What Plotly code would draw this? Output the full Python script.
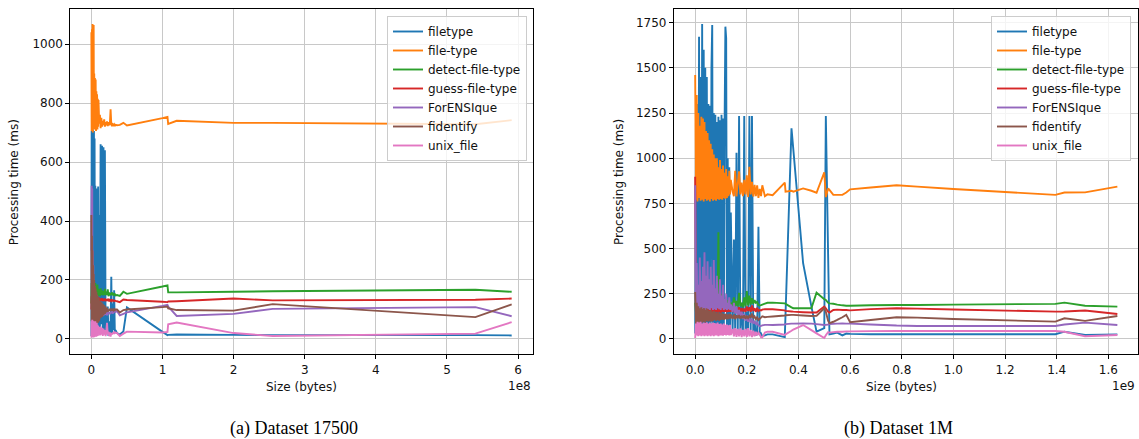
import plotly.graph_objects as go

# ---------------- Dataset 17500 (sizes in units of 1e8 bytes) ----------------
size_a = [0.000, 0.004, 0.008, 0.012, 0.016, 0.020, 0.024, 0.028, 0.032, 0.036,
          0.040, 0.045, 0.050, 0.055, 0.060, 0.065, 0.070, 0.075, 0.080, 0.085,
          0.090, 0.095, 0.100, 0.110, 0.120, 0.130, 0.140, 0.150, 0.160, 0.170,
          0.180, 0.190, 0.200, 0.210, 0.220, 0.230, 0.240, 0.250, 0.260, 0.270,
          0.280, 0.290, 0.300, 0.310, 0.320, 0.330, 0.340,
          0.36, 0.40, 0.45, 0.50, 1.00, 1.07, 1.08, 1.20, 2.00, 2.55, 5.40, 5.91]

filetype_a = [10, 705, 20, 700, 40, 710, 15, 690, 60, 705,
              30, 680, 80, 520, 20, 180, 30, 510, 40, 500,
              60, 517, 30, 420, 40, 660, 50, 655, 30, 650,
              20, 640, 15, 90, 20, 110, 10, 60, 20, 40,
              211, 20, 120, 30, 165, 20, 30,
              20, 15, 25, 107, 24, 13, 14, 15, 14, 13, 13, 12]
file_type_a = [1040, 705, 1050, 710, 1068, 700, 1060, 720, 1065, 715,
               900, 710, 885, 720, 880, 705, 840, 720, 830, 710,
               815, 720, 810, 730, 760, 715, 750, 720, 740, 725,
               745, 720, 735, 725, 738, 722, 735, 725, 730, 779,
               728, 722, 728, 725, 728, 722, 726,
               725, 726, 733, 724, 749, 753, 729, 740, 733, 733, 728, 742]
detect_a = [120, 190, 150, 195, 140, 180, 150, 190, 145, 185,
            150, 175, 145, 190, 150, 180, 140, 175, 150, 185,
            145, 170, 150, 168, 145, 172, 150, 165, 148, 162,
            150, 170, 148, 160, 150, 168, 145, 158, 148, 155,
            150, 158, 148, 155, 150, 152, 148,
            149, 146, 160, 153, 178, 182, 158, 158, 160, 162, 167, 160]
guess_a = [100, 145, 120, 150, 118, 140, 125, 148, 120, 142,
           125, 145, 128, 140, 122, 145, 128, 138, 125, 142,
           130, 138, 128, 140, 128, 136, 130, 138, 128, 135,
           130, 137, 128, 134, 130, 136, 128, 133, 130, 134,
           129, 132, 130, 131, 128, 130, 129,
           128, 125, 134, 132, 126, 125, 127, 128, 137, 131, 133, 137]
forensique_a = [300, 520, 80, 510, 60, 300, 70, 250, 60, 180,
                70, 150, 60, 130, 70, 120, 65, 110, 70, 105,
                75, 100, 70, 100, 75, 98, 80, 95, 78, 92,
                80, 95, 82, 90, 80, 92, 85, 90, 84, 92,
                88, 95, 85, 98, 90, 96, 92,
                95, 80, 85, 90, 112, 116, 110, 78, 85, 102, 108, 77]
fidentify_a = [420, 60, 350, 50, 300, 45, 250, 50, 220, 55,
               200, 50, 180, 45, 170, 55, 160, 50, 150, 60,
               145, 55, 140, 60, 130, 70, 125, 75, 120, 80,
               115, 85, 110, 90, 105, 92, 100, 95, 102, 96,
               100, 98, 100, 97, 101, 98, 100,
               100, 90, 98, 100, 108, 110, 104, 98, 96, 118, 74, 117]
unix_a = [5, 60, 5, 65, 8, 62, 5, 58, 10, 60,
          6, 55, 8, 60, 10, 50, 8, 55, 12, 48,
          10, 45, 15, 40, 12, 42, 15, 38, 10, 35,
          15, 30, 10, 28, 55, 15, 25, 10, 22, 8,
          20, 15, 22, 18, 25, 20, 22,
          20, 10, 18, 25, 22, 24, 50, 56, 20, 10, 18, 57]

# ---------------- Dataset 1M (sizes in units of 1e9 bytes) ----------------
size_b = [0.000, 0.003, 0.006, 0.009, 0.012, 0.015, 0.018, 0.021, 0.024, 0.027,
          0.030, 0.033, 0.036, 0.039, 0.042, 0.045, 0.048, 0.051, 0.054, 0.057,
          0.060, 0.063, 0.066, 0.069, 0.072, 0.075, 0.078, 0.081, 0.084, 0.087,
          0.090, 0.093, 0.096, 0.099, 0.102, 0.105, 0.108, 0.111, 0.114, 0.117,
          0.120, 0.123, 0.126, 0.129, 0.132, 0.135, 0.138,
          0.145, 0.150, 0.155, 0.160, 0.165, 0.170, 0.175, 0.180, 0.185, 0.190,
          0.195, 0.200, 0.205, 0.210, 0.215, 0.220, 0.225, 0.230, 0.235, 0.240,
          0.245, 0.250, 0.255, 0.260, 0.270, 0.280,
          0.300, 0.347, 0.350, 0.373, 0.380, 0.418, 0.450, 0.470, 0.500, 0.506,
          0.515, 0.520, 0.535, 0.550, 0.570, 0.585, 0.600, 0.680, 0.780, 0.860,
          1.000, 1.395, 1.430, 1.510, 1.635]

filetype_b = [30, 1250, 40, 1300, 30, 1672, 50, 1450, 40, 1743,
              30, 1600, 60, 1500, 40, 1450, 30, 1300, 50, 1290,
              40, 1500, 1737, 30, 1250, 50, 1240, 40, 1200, 30,
              1230, 50, 1210, 40, 1240, 30, 1220, 60, 1200, 1728,
              1665, 40, 1000, 30, 950, 40, 700,
              40, 550, 30, 1030, 40, 1234, 30, 200, 40, 1234,
              30, 150, 40, 1234, 50, 1234, 30, 100, 20, 40,
              621, 20, 30, 15, 20, 25,
              25, 10, 140, 1165, 1050, 419, 180, 40, 60, 1234,
              450, 25, 30, 35, 20, 30, 28, 26, 26, 26,
              26, 26, 40, 22, 25]
file_type_b = [1460, 770, 1350, 760, 1250, 780, 1180, 765, 1230, 770,
               1220, 760, 1200, 775, 1150, 765, 1140, 770, 1100, 760,
               1080, 775, 1050, 765, 1020, 770, 1000, 765, 1000, 775,
               950, 770, 990, 775, 940, 770, 960, 780, 920, 775,
               940, 780, 900, 790, 930, 800, 880,
               815, 790, 930, 788, 860, 927, 800, 865, 790, 880,
               800, 905, 785, 953, 800, 870, 788, 852, 790, 850,
               780, 830, 790, 850, 790, 800,
               795, 865, 815, 820, 815, 833, 820, 809, 922, 785,
               833, 825, 797, 797, 797, 810, 828, 838, 850, 843,
               830, 797, 810, 811, 843]
detect_b = [200, 150, 220, 160, 210, 150, 230, 160, 200, 150,
            220, 160, 210, 150, 200, 160, 220, 155, 210, 160,
            200, 150, 215, 160, 200, 155, 210, 160, 200, 165,
            590, 170, 240, 180, 250, 175, 230, 180, 220, 175,
            210, 180, 215, 175, 205, 180, 200,
            185, 230, 180, 210, 178, 255, 180, 200, 175, 230,
            180, 265, 185, 240, 190, 225, 195, 215, 200, 205,
            188, 185, 187, 190, 195, 200,
            201, 197, 194, 175, 170, 170, 170, 256, 220, 216,
            200, 197, 195, 190, 186, 184, 184, 186, 188, 188,
            190, 194, 201, 184, 179]
guess_b = [898, 150, 170, 140, 175, 145, 165, 140, 170, 145,
           160, 140, 170, 150, 165, 140, 170, 145, 165, 150,
           170, 145, 206, 150, 175, 145, 170, 150, 200, 145,
           175, 150, 170, 145, 175, 150, 170, 148, 172, 150,
           168, 148, 170, 150, 165, 150, 168,
           150, 170, 148, 172, 150, 175, 150, 170, 152, 168,
           150, 180, 155, 175, 150, 185, 155, 170, 150, 172,
           155, 160, 158, 162, 165, 164,
           164, 158, 155, 152, 151, 148, 146, 146, 179, 170,
           150, 146, 160, 162, 160, 160, 158, 165, 170, 168,
           163, 151, 152, 157, 138]
forensique_b = [850, 160, 420, 170, 300, 160, 450, 165, 320, 160,
                400, 170, 480, 160, 350, 170, 430, 165, 330, 160,
                400, 170, 300, 160, 437, 165, 280, 160, 350, 170,
                250, 165, 330, 160, 240, 170, 300, 160, 220, 165,
                250, 160, 200, 165, 230, 160, 190,
                150, 200, 140, 180, 130, 160, 120, 150, 110, 140,
                100, 130, 95, 120, 90, 110, 85, 100, 80, 90,
                75, 70, 72, 75, 78, 78,
                77, 80, 82, 85, 85, 86, 85, 82, 77, 78,
                80, 82, 84, 85, 86, 85, 85, 80, 74, 72,
                72, 72, 80, 90, 77]
fidentify_b = [260, 80, 200, 90, 180, 85, 170, 95, 175, 90,
               165, 95, 170, 90, 160, 100, 165, 95, 155, 100,
               160, 95, 150, 100, 155, 105, 150, 100, 145, 105,
               150, 100, 140, 105, 145, 108, 140, 105, 138, 110,
               140, 108, 135, 110, 138, 112, 135,
               112, 135, 110, 130, 115, 132, 112, 128, 115, 130,
               112, 125, 115, 128, 118, 140, 115, 125, 110, 120,
               105, 112, 118, 125, 120, 122,
               124, 130, 131, 133, 133, 130, 127, 128, 170, 150,
               100, 88, 95, 105, 120, 133, 92, 105, 120, 118,
               110, 96, 114, 100, 127]
unix_b = [5, 85, 20, 95, 15, 90, 20, 95, 15, 85,
          20, 90, 15, 88, 20, 92, 15, 85, 20, 90,
          15, 85, 20, 90, 15, 88, 20, 85, 20, 90,
          15, 82, 20, 85, 20, 80, 18, 85, 22, 78,
          20, 80, 22, 75, 20, 78, 22,
          55, 15, 60, 12, 55, 15, 58, 10, 50, 15,
          55, 12, 60, 15, 50, 10, 45, 15, 40, 20,
          35, 25, 10, 8, 35, 40,
          40, 22, 25, 45, 52, 77, 49, 31, 5, 20,
          38, 35, 38, 40, 40, 42, 42, 43, 44, 44,
          44, 44, 40, 15, 22]

series_names = ["filetype", "file-type", "detect-file-type", "guess-file-type",
                "ForENSIque", "fidentify", "unix_file"]
colors = ["#1f77b4", "#ff7f0e", "#2ca02c", "#d62728", "#9467bd", "#8c564b", "#e377c2"]

ticks_a = [0, 1, 2, 3, 4, 5, 6]
ticks_b = [0.0, 0.2, 0.4, 0.6, 0.8, 1.0, 1.2, 1.4, 1.6]
yticks_a = [0, 200, 400, 600, 800, 1000]
yticks_b = [0, 250, 500, 750, 1000, 1250, 1500, 1750]

data_a = [filetype_a, file_type_a, detect_a, guess_a, forensique_a, fidentify_a, unix_a]
data_b = [filetype_b, file_type_b, detect_b, guess_b, forensique_b, fidentify_b, unix_b]
for s in data_a:
    assert len(s) == len(size_a), (len(s), len(size_a))
for s in data_b:
    assert len(s) == len(size_b), (len(s), len(size_b))

x_a = [v * 1e8 for v in size_a]
x_b = [v * 1e9 for v in size_b]

fig = go.Figure()
for name, col, ys in zip(series_names, colors, data_a):
    fig.add_trace(go.Scatter(x=x_a, y=ys, mode="lines", name=name,
                             line=dict(color=col, width=1.9, simplify=False),
                             xaxis="x", yaxis="y", legend="legend"))
for name, col, ys in zip(series_names, colors, data_b):
    fig.add_trace(go.Scatter(x=x_b, y=ys, mode="lines", name=name,
                             line=dict(color=col, width=1.9, simplify=False),
                             xaxis="x2", yaxis="y2", legend="legend2"))

W, H = 1139, 439
font_main = "DejaVu Sans"
ydom = [1 - 354.3 / H, 1 - 9.3 / H]

axis_common = dict(showline=True, linecolor="black", linewidth=1, mirror=True,
                   ticks="outside", ticklen=4, tickwidth=1, tickcolor="black",
                   showgrid=True, gridcolor="#c8c8c8", gridwidth=1, zeroline=False,
                   tickfont=dict(family=font_main, size=12, color="#111"))

fig.update_layout(
    width=W, height=H,
    margin=dict(l=0, r=0, t=0, b=0),
    paper_bgcolor="white", plot_bgcolor="white",
    showlegend=True,
    xaxis=dict(domain=[70.4 / W, 533 / W], range=[-0.295e8, 6.21e8], anchor="y",
               tickvals=[t * 1e8 for t in ticks_a], ticktext=[str(t) for t in ticks_a],
               **axis_common),
    yaxis=dict(domain=ydom, range=[-52, 1118], anchor="x",
               tickvals=yticks_a, ticktext=[str(t) for t in yticks_a], **axis_common),
    xaxis2=dict(domain=[673.9 / W, 1137.5 / W], range=[-0.0824e9, 1.713e9], anchor="y2",
                tickvals=[t * 1e9 for t in ticks_b], ticktext=["%.1f" % t for t in ticks_b],
                **axis_common),
    yaxis2=dict(domain=ydom, range=[-85, 1824], anchor="x2",
                tickvals=yticks_b, ticktext=[str(t) for t in yticks_b], **axis_common),
    legend=dict(x=527 / W, xanchor="right", y=1 - 16 / H, yanchor="top",
                bgcolor="rgba(255,255,255,0.8)", bordercolor="#cccccc", borderwidth=1,
                font=dict(family=font_main, size=12, color="#111"),
                tracegroupgap=0, itemwidth=30),
    legend2=dict(x=1131 / W, xanchor="right", y=1 - 16 / H, yanchor="top",
                 bgcolor="rgba(255,255,255,0.8)", bordercolor="#cccccc", borderwidth=1,
                 font=dict(family=font_main, size=12, color="#111"),
                 tracegroupgap=0, itemwidth=30),
)

ann_font = dict(family=font_main, size=12, color="#111")
annotations = [
    dict(text="Processing time (ms)", x=14.3 / W, y=1 - 182 / H, textangle=-90),
    dict(text="Processing time (ms)", x=619 / W, y=1 - 182 / H, textangle=-90),
    dict(text="Size (bytes)", x=301 / W, y=1 - 387 / H),
    dict(text="Size (bytes)", x=901 / W, y=1 - 387 / H),
]
for a in annotations:
    fig.add_annotation(xref="paper", yref="paper", showarrow=False,
                       xanchor="center", yanchor="middle", font=ann_font, **a)
fig.add_annotation(text="1e8", xref="paper", yref="paper", x=533 / W, y=1 - 386 / H,
                   xanchor="right", yanchor="middle", showarrow=False, font=ann_font)
fig.add_annotation(text="1e9", xref="paper", yref="paper", x=1137 / W, y=1 - 386 / H,
                   xanchor="right", yanchor="middle", showarrow=False, font=ann_font)

cap_font = dict(family="Liberation Serif", size=18, color="black")
fig.add_annotation(text="(a) Dataset 17500", xref="paper", yref="paper", x=294 / W,
                   y=1 - 428 / H, xanchor="center", yanchor="middle", showarrow=False,
                   font=cap_font)
fig.add_annotation(text="(b) Dataset 1M", xref="paper", yref="paper", x=898 / W,
                   y=1 - 428 / H, xanchor="center", yanchor="middle", showarrow=False,
                   font=cap_font)

fig.write_html("out.html", config={"displayModeBar": False},
               post_script="document.body.style.margin='0';document.body.style.overflow='hidden';")
